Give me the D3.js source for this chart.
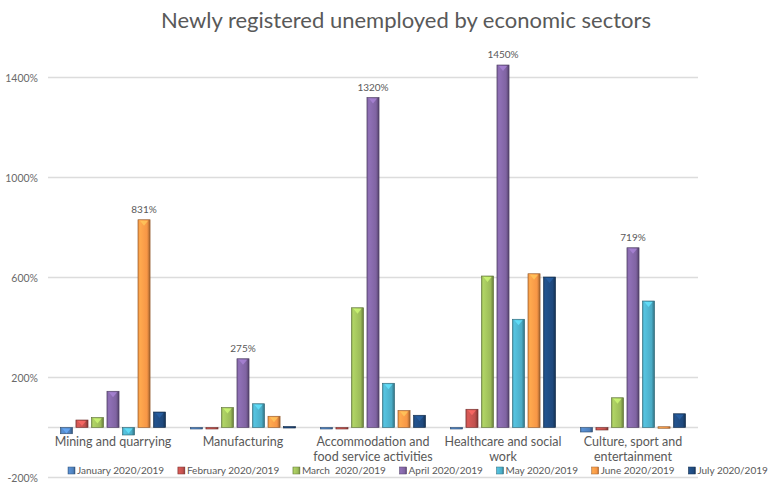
<!DOCTYPE html>
<html>
<head>
<meta charset="utf-8">
<script src="https://cdn.jsdelivr.net/npm/d3@7"></script>
<style>
  body { margin: 0; background: #fff; }
  text { font-family: Lato, "Liberation Sans", sans-serif; }
</style>
</head>
<body>
<div id="chart"></div>
<script>
const categories = ["Mining and quarrying", "Manufacturing", "Accommodation and food service activities",
                    "Healthcare and social work", "Culture, sport and entertainment"];
const categoryLines = [["Mining and quarrying"], ["Manufacturing"], ["Accommodation and", "food service activities"],
                       ["Healthcare and social", "work"], ["Culture, sport and", "entertainment"]];
const seriesNames = ["January 2020/2019", "February 2020/2019", "March  2020/2019", "April 2020/2019",
                     "May 2020/2019", "June 2020/2019", "July 2020/2019"];
const seriesColors = ["#4f81bd", "#c0504d", "#9bbb59", "#8064a2", "#4bacc6", "#f79646", "#1f497d"];

// values in %, one array per month, in category order
const jan = [-25, -3, -6, -3, -18];
const feb = [30, -2, -2, 73, -10];
const mar = [40, 80, 479, 606, 119];
const apr = [145, 275, 1320, 1450, 719];
const may = [-30, 95, 177, 433, 506];
const jun = [831, 45, 68, 615, 3];
const jul = [62, 4, 49, 602, 55];
const seriesValues = [jan, feb, mar, apr, may, jun, jul];

const yTicks = [-200, 200, 600, 1000, 1400];
// [category index, series index] of bars that carry a value label
const labelled = [[0, 5], [1, 3], [2, 3], [3, 3], [4, 3]];

const width = 772, height = 484;
const svg = d3.select("#chart").append("svg")
    .attr("width", width)
    .attr("height", height);

const defs = svg.append("defs");
seriesColors.forEach((c, i) => {
    const g = defs.append("linearGradient").attr("id", "grad" + i)
        .attr("x1", "0").attr("x2", "1").attr("y1", "0").attr("y2", "0");
    g.append("stop").attr("offset", "0%").attr("stop-color", d3.color(c).darker(0.3));
    g.append("stop").attr("offset", "15%").attr("stop-color", d3.color(c).brighter(0.35));
    g.append("stop").attr("offset", "75%").attr("stop-color", c);
    g.append("stop").attr("offset", "100%").attr("stop-color", d3.color(c).darker(1.2));
});

const x0 = d3.scaleBand().domain(categories).range([48, 698]);
const x1 = d3.scaleBand().domain(seriesNames).range([0, x0.bandwidth()])
    .paddingInner(0.22).paddingOuter(0.8);
const y = d3.scaleLinear().domain([-200, 1400]).range([477.5, 77.5]);

// title
svg.append("text")
    .attr("x", 406).attr("y", 28)
    .attr("text-anchor", "middle")
    .style("font-size", "22px")
    .style("fill", "#595959")
    .text("Newly registered unemployed by economic sectors");

// gridlines + y labels
const grid = svg.append("g");
grid.selectAll("line").data(yTicks.concat([0])).join("line")
    .attr("x1", 48).attr("x2", 698)
    .attr("y1", d => y(d)).attr("y2", d => y(d))
    .attr("stroke", "#dcdcdc")
    .attr("stroke-width", 1.5);
grid.selectAll("text").data(yTicks).join("text")
    .attr("x", 38).attr("y", d => y(d) + 4)
    .attr("text-anchor", "end")
    .style("font-size", "10.5px")
    .style("fill", "#6a6a6a")
    .text(d => d + "%");

// bars
const groups = svg.append("g").selectAll("g").data(categories).join("g")
    .attr("transform", d => `translate(${x0(d)},0)`);

groups.selectAll("rect")
    .data((c, ci) => seriesNames.map((s, si) => ({ s, si, v: seriesValues[si][ci] })))
    .join("rect")
    .attr("x", d => x1(d.s))
    .attr("width", x1.bandwidth())
    .attr("y", d => y(Math.max(0, d.v)))
    .attr("height", d => Math.max(1.5, Math.abs(y(d.v) - y(0))))
    .attr("fill", d => `url(#grad${d.si})`)
    .attr("stroke", d => d3.color(seriesColors[d.si]).darker(1.5))
    .attr("stroke-width", 0.6);

// small bevel triangle at the top of each bar
groups.selectAll("path")
    .data((c, ci) => seriesNames.map((s, si) => ({ s, si, v: seriesValues[si][ci] })).filter(d => Math.abs(d.v) > 20))
    .join("path")
    .attr("d", d => {
        const xl = x1(d.s) + 2, xr = x1(d.s) + x1.bandwidth() - 2, ty = d.v > 0 ? y(d.v) + 1 : y(0) + 1;
        return `M${xl},${ty}L${xr},${ty}L${(xl + xr) / 2},${ty + 5}Z`;
    })
    .attr("fill", d => d3.color(seriesColors[d.si]).brighter(0.8))
    .attr("opacity", 0.8);

// value labels
svg.append("g").selectAll("text").data(labelled).join("text")
    .attr("x", d => x0(categories[d[0]]) + x1(seriesNames[d[1]]) + x1.bandwidth() / 2)
    .attr("y", d => y(seriesValues[d[1]][d[0]]) - 7)
    .attr("text-anchor", "middle")
    .style("font-size", "10px")
    .style("fill", "#595959")
    .text(d => seriesValues[d[1]][d[0]] + "%");

// category labels, one text per line
const catG = svg.append("g");
categoryLines.forEach((lines, i) => {
    catG.selectAll(null).data(lines).enter().append("text")
        .attr("x", x0(categories[i]) + x0.bandwidth() / 2)
        .attr("y", (d, j) => 446 + j * 15)
        .attr("text-anchor", "middle")
        .style("font-size", "12.5px")
        .style("fill", "#595959")
        .text(d => d);
});

// legend
const legend = svg.append("g");
const items = legend.selectAll("g").data(seriesNames).join("g");
items.append("rect")
    .attr("width", 7).attr("height", 7)
    .attr("y", -7)
    .attr("fill", (d, i) => `url(#grad${i})`)
    .attr("stroke", (d, i) => d3.color(seriesColors[i]).darker(1.2))
    .attr("stroke-width", 0.5);
items.append("text")
    .attr("x", 9).attr("y", 0)
    .style("font-size", "10px")
    .style("fill", "#595959")
    .style("white-space", "pre")
    .text(d => d);
const widths = [];
items.each(function () { widths.push(this.getBBox().width); });
const total = d3.sum(widths);
const gap = (768 - 68 - total) / (seriesNames.length - 1);
let lx = 68;
items.attr("transform", (d, i) => {
    const t = `translate(${lx},474)`;
    lx += widths[i] + gap;
    return t;
});
</script>
</body>
</html>
